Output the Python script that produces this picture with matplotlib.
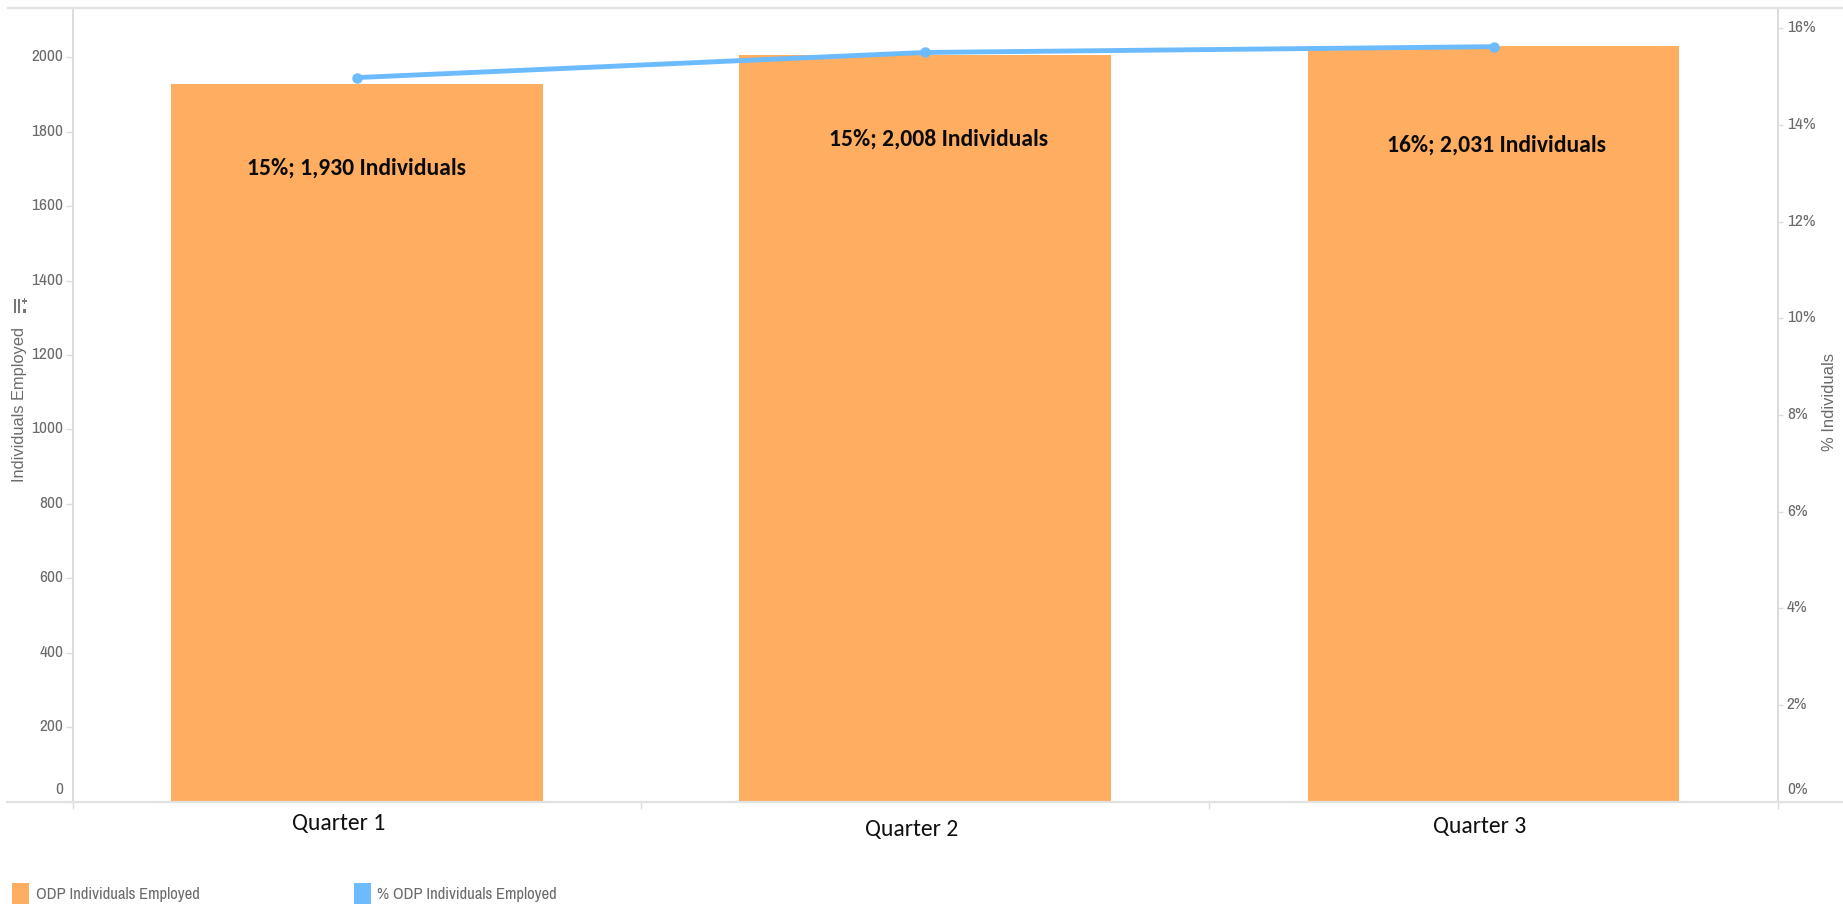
import matplotlib
matplotlib.use("Agg")
import logging
logging.getLogger("matplotlib.font_manager").setLevel(logging.ERROR)
import matplotlib.pyplot as plt
from matplotlib.lines import Line2D
from matplotlib.patches import Rectangle
from matplotlib.transforms import ScaledTranslation

W, H = 1843, 906
quarters = ["Quarter 1", "Quarter 2", "Quarter 3"]
individuals = [1930, 2008, 2031]
percent = [14.98, 15.5, 15.62]
bar_labels = ["15%; 1,930 Individuals", "15%; 2,008 Individuals", "16%; 2,031 Individuals"]
left_ticks = list(range(0, 2001, 200))
right_ticks = list(range(0, 17, 2))
legend_labels = ["ODP Individuals Employed", "% ODP Individuals Employed"]

ORANGE = "#FFAD60"
BLUE = "#6CBBFF"
AXIS = "#DCDCDC"
TICKTXT = "#6B6B6B"
NARROW = ["Archivo Narrow", "Roboto", "DejaVu Sans"]
CALIBRI = ["Carlito", "Lato", "DejaVu Sans"]

fig = plt.figure(figsize=(W / 100, H / 100), dpi=100, facecolor="white")
L, R, T, B = 72.5, 1777.7, 8, 801.5
ax = fig.add_axes([L / W, 1 - B / H, (R - L) / W, (B - T) / H])
ax2 = ax.twinx()

x = list(range(len(quarters)))
ax.bar(x, individuals, width=0.654, color=ORANGE, zorder=2)
ax.set_xlim(-0.5, 2.5)
ax.set_ylim(0, 2133)
ax2.set_ylim(0, 16.42)
ax2.plot(x, percent, color=BLUE, lw=3.5, marker="o", ms=6.5, solid_capstyle="round", zorder=5)

ax.set_xticks([-0.5, 0.5, 1.5, 2.5])
ax.set_xticklabels([])
ax.tick_params(axis="x", length=5, width=1, color=AXIS)
ax.set_yticks(left_ticks)
ax.set_yticklabels([str(v) for v in left_ticks], fontsize=12.5, color=TICKTXT, family=NARROW, va="center")
ax.tick_params(axis="y", length=5, width=1, color=AXIS, pad=1.5)
ax2.set_yticks(right_ticks)
ax2.set_yticklabels([f"{v}%" for v in right_ticks], fontsize=12.5, color=TICKTXT, family=NARROW, va="center")
ax2.tick_params(axis="y", length=3.6, width=1, color=AXIS, pad=3)

# tick labels sit slightly above their ticks; the zero labels clear the baseline
for a in (ax, ax2):
    labels = a.get_yticklabels()
    for i, lab in enumerate(labels):
        up = 12 if i == 0 else 0.5
        lab.set_transform(lab.get_transform() + ScaledTranslation(0, up / 100, fig.dpi_scale_trans))

for a in (ax, ax2):
    a.spines["top"].set_visible(False)
    a.spines["bottom"].set_visible(False)
    for s in ("left", "right"):
        a.spines[s].set_color(AXIS)
        a.spines[s].set_linewidth(1.4)

# horizontal rules spanning the full figure width
for y, x0 in ((T, 8), (B, 7)):
    fig.add_artist(Line2D([x0 / W, 1], [1 - y / H] * 2, color="#E2E2E2", lw=1.6))

# value labels inside bars and category labels (positions offset in pixels)
lab_offs = [(0, 633.5), (13, 662), (3, 656)]
for i, (s, (dx, dy)) in enumerate(zip(bar_labels, lab_offs)):
    tr = ax.get_xaxis_transform() + ScaledTranslation(dx / 100, dy / 100, fig.dpi_scale_trans)
    ax.text(i, 0, s, transform=tr, ha="center", va="center", fontsize=17,
            fontweight="bold", family=CALIBRI, color="#0A0A0A", zorder=6)
cat_offs = [(-18, -22), (-13.5, -28), (-13.5, -25.5)]
for i, (s, (dx, dy)) in enumerate(zip(quarters, cat_offs)):
    tr = ax.get_xaxis_transform() + ScaledTranslation(dx / 100, dy / 100, fig.dpi_scale_trans)
    ax.text(i, 0, s, transform=tr, ha="center", va="center", fontsize=17,
            family=CALIBRI, color="#111111", clip_on=False)

# axis titles
fig.text(20 / W, 1 - 404 / H, "Individuals Employed", rotation=90, ha="center", va="center",
         fontsize=11.8, color=TICKTXT, family="Liberation Sans")
fig.text(1830 / W, 1 - 402 / H, "% Individuals", rotation=90, ha="center", va="center",
         fontsize=11.9, color=TICKTXT, family="Liberation Sans")

# small sort icon next to the left axis title
for px, py, pw, ph in ((13.5, 299, 2, 14), (18, 299, 2, 14), (23, 309, 2.5, 4), (23.5, 298, 1.5, 6), (21.5, 300.5, 5.5, 1.5)):
    fig.add_artist(Rectangle((px / W, 1 - (py + ph) / H), pw / W, ph / H,
                             transform=fig.transFigure, color="#777777", lw=0))

# legend
for sx, c, tx, s in ((12, ORANGE, 36, legend_labels[0]), (353.5, BLUE, 377, legend_labels[1])):
    fig.add_artist(Rectangle((sx / W, 1 - 904 / H), 17 / W, 21 / H,
                             transform=fig.transFigure, color=c, lw=0))
    fig.text(tx / W, 1 - 895 / H, s, ha="left", va="center", fontsize=12,
             fontweight="bold", color=TICKTXT, family=NARROW)

fig.savefig("out.png", dpi=100)
